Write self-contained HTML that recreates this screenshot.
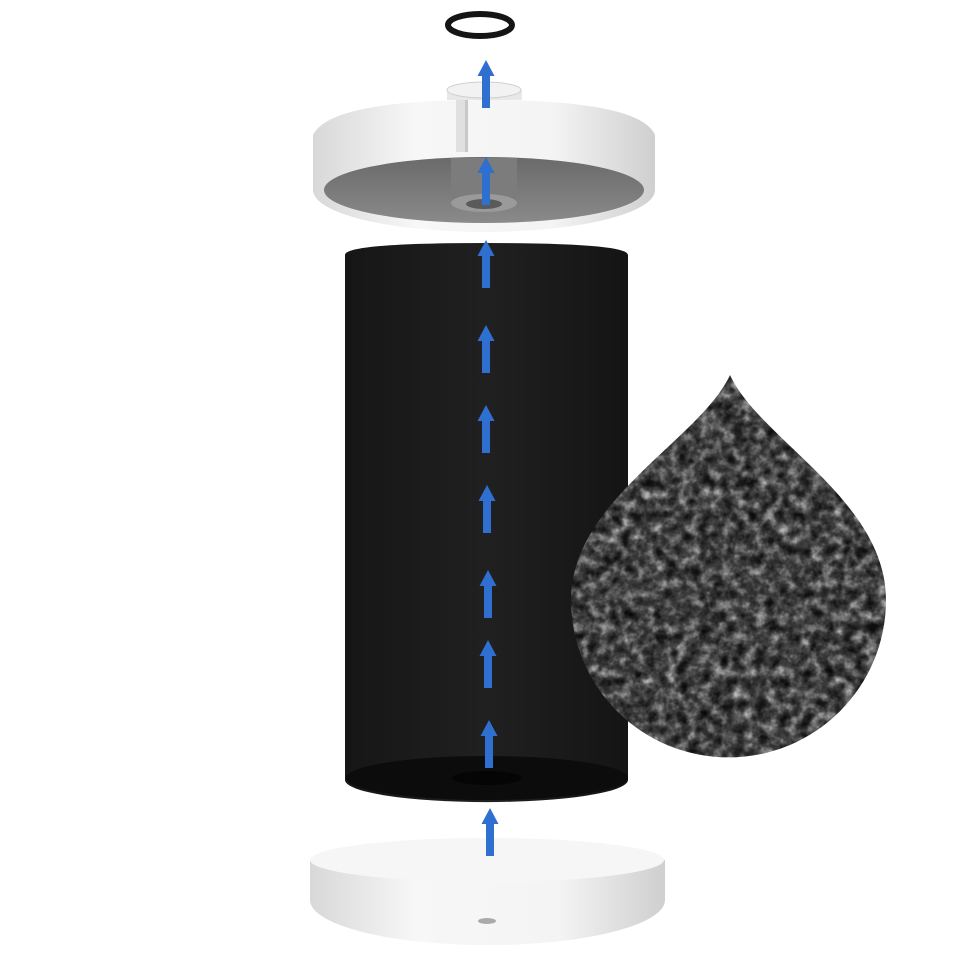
<!DOCTYPE html>
<html><head><meta charset="utf-8"><style>html,body{margin:0;padding:0;background:#fff}svg{display:block}</style></head>
<body>
<svg width="980" height="980" viewBox="0 0 980 980" xmlns="http://www.w3.org/2000/svg">
<defs>
<linearGradient id="wh" x1="0" x2="1" y1="0" y2="0">
<stop offset="0" stop-color="#d8d8d8"/><stop offset="0.3" stop-color="#f7f7f7"/><stop offset="0.7" stop-color="#f4f4f4"/><stop offset="1" stop-color="#cfcfcf"/></linearGradient>
<linearGradient id="gr" x1="0" x2="0" y1="0" y2="1">
<stop offset="0" stop-color="#6a6a6a"/><stop offset="1" stop-color="#8a8a8a"/></linearGradient>
<linearGradient id="bl" x1="0" x2="1"><stop offset="0" stop-color="#161616"/><stop offset="0.5" stop-color="#202020"/><stop offset="1" stop-color="#141414"/></linearGradient>
<filter id="noise" x="0" y="0" width="100%" height="100%" color-interpolation-filters="sRGB">
<feTurbulence type="fractalNoise" baseFrequency="0.09" numOctaves="3" seed="5"/>
<feColorMatrix type="matrix" values="0.6 0.4 0 0 0  0.6 0.4 0 0 0  0.6 0.4 0 0 0  0 0 0 0 1"/>
<feComponentTransfer>
<feFuncR type="table" tableValues="0 0.02 0.1 0.25 0.5 0.8 1"/>
<feFuncG type="table" tableValues="0 0.02 0.1 0.25 0.5 0.8 1"/>
<feFuncB type="table" tableValues="0 0.02 0.1 0.25 0.5 0.8 1"/>
</feComponentTransfer>
</filter>
<clipPath id="drop"><path d="M730 375 C700 440 571 500 571 600 A157 157 0 0 0 886 600 C886 500 760 440 730 375 Z"/></clipPath>
<g id="arr"><polygon points="0,0 -8.5,16 8.5,16" fill="#2e6fd0"/><rect x="-4" y="15" width="8" height="33" fill="#2e6fd0"/></g>
</defs>
<ellipse cx="480" cy="25" rx="32" ry="11" fill="none" stroke="#151515" stroke-width="6"/>
<path d="M447 90 Q484 76 522 90 L522 100 L447 100 Z" fill="#e8e8e8"/>
<ellipse cx="484" cy="90" rx="37" ry="8" fill="#f2f2f2" stroke="#cfcfcf" stroke-width="1"/>
<path d="M313 135 Q330 100 484 100 Q640 100 655 135 L655 190 A171 42 0 0 1 313 190 Z" fill="url(#wh)"/>
<ellipse cx="484" cy="190" rx="160" ry="33" fill="url(#gr)"/>
<rect x="451" y="158" width="66" height="45" fill="#7c7c7c"/>
<ellipse cx="484" cy="203" rx="33" ry="9" fill="#9a9a9a"/>
<ellipse cx="484" cy="204" rx="18" ry="5" fill="#5a5a5a"/>
<rect x="456" y="100" width="12" height="52" fill="#e0e0e0"/>
<rect x="465" y="100" width="3" height="52" fill="#c8c8c8"/>
<path d="M345 255 Q345 243 487 243 Q628 243 628 255 L628 780 A141 22 0 0 1 345 780 Z" fill="url(#bl)"/>
<ellipse cx="487" cy="778" rx="141" ry="22" fill="#0c0c0c"/>
<ellipse cx="487" cy="778" rx="35" ry="7" fill="#050505"/>
<g clip-path="url(#drop)"><rect x="565" y="370" width="325" height="395" filter="url(#noise)"/></g>
<path d="M310 860 L310 900 A177 45 0 0 0 665 900 L665 860 Z" fill="url(#wh)"/>
<ellipse cx="487" cy="860" rx="177" ry="22" fill="#f6f6f6"/>
<ellipse cx="487" cy="921" rx="9" ry="3" fill="#aaa"/>
<use href="#arr" x="486" y="60"/>
<use href="#arr" x="486" y="157"/>
<use href="#arr" x="486" y="240"/>
<use href="#arr" x="486" y="325"/>
<use href="#arr" x="486" y="405"/>
<use href="#arr" x="487" y="485"/>
<use href="#arr" x="488" y="570"/>
<use href="#arr" x="488" y="640"/>
<use href="#arr" x="489" y="720"/>
<use href="#arr" x="490" y="808"/>
</svg>
</body></html>
